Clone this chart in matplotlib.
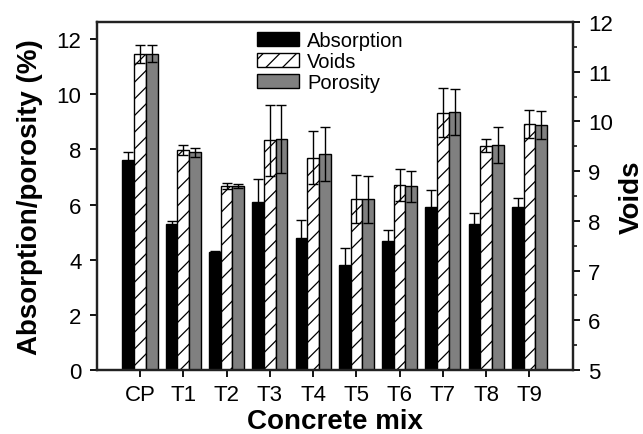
import matplotlib
matplotlib.use('Agg')
import matplotlib.pyplot as plt
from matplotlib.ticker import MultipleLocator
import numpy as np

plt.rcParams['font.family'] = ['Liberation Sans', 'DejaVu Sans']
plt.rcParams['hatch.linewidth'] = 0.9

# Data (left axis units)
mixes = ['CP', 'T1', 'T2', 'T3', 'T4', 'T5', 'T6', 'T7', 'T8', 'T9']
absorption = [7.6, 5.29, 4.27, 6.08, 4.79, 3.81, 4.69, 5.9, 5.28, 5.92]
absorption_err = [0.32, 0.1, 0.06, 0.85, 0.66, 0.6, 0.4, 0.64, 0.41, 0.33]
voids = [11.47, 7.97, 6.68, 8.34, 7.7, 6.19, 6.71, 9.34, 8.13, 8.93]
voids_err = [0.33, 0.18, 0.12, 1.29, 0.97, 0.87, 0.58, 0.88, 0.24, 0.5]
porosity = [11.47, 7.89, 6.68, 8.38, 7.83, 6.19, 6.66, 9.37, 8.17, 8.89]
porosity_err = [0.3, 0.16, 0.07, 1.24, 0.98, 0.85, 0.57, 0.83, 0.65, 0.51]

x = np.arange(len(mixes))
w = 0.27

fig = plt.figure(figsize=(6.43, 4.35), dpi=100)
ax = fig.add_axes([0.1504, 0.147, 0.7403, 0.800])

ax.bar(x - w, absorption, w, color='black', edgecolor='black', linewidth=1,
       label='Absorption', zorder=2)
ax.bar(x, voids, w, color='white', edgecolor='black', linewidth=1,
       hatch='//', label='Voids', zorder=2)
ax.bar(x + w, porosity, w, color='#808080', edgecolor='black', linewidth=1,
       label='Porosity', zorder=2)

for off, vals, errs in [(-w, absorption, absorption_err),
                        (0, voids, voids_err),
                        (w, porosity, porosity_err)]:
    ax.errorbar(x + off, vals, yerr=errs, fmt='none', ecolor='black',
                elinewidth=1, capsize=3.5, capthick=1, zorder=3)

ax.set_xlim(-1, 10)
ax.set_ylim(0, 12.62)
ax.set_xticks(x)
ax.set_xticklabels(mixes)
ax.set_yticks(range(0, 13, 2))
ax.tick_params(axis='both', labelsize=16, width=1.3, length=5, direction='out')
ax.tick_params(axis='x', pad=5)
ax.tick_params(axis='y', right=False, pad=6)
for s in ax.spines.values():
    s.set_linewidth(1.6)
    s.set_color('#222222')

ax.set_xlabel('Concrete mix', fontsize=20, fontweight='bold', labelpad=2)
ax.set_ylabel('Absorption/porosity (%)', fontsize=20, fontweight='bold', labelpad=10)

ax2 = ax.twinx()
ax2.set_ylim(5, 12)
ax2.yaxis.set_major_locator(MultipleLocator(1))
ax2.yaxis.set_minor_locator(MultipleLocator(0.5))
ax2.tick_params(axis='y', which='major', labelsize=16, width=1.3, length=5, pad=6)
ax2.tick_params(axis='y', which='minor', width=1.1, length=3)
ax2.set_ylabel('Voids', fontsize=20, fontweight='bold', labelpad=4)
for s in ax2.spines.values():
    s.set_linewidth(1.6)
    s.set_color('#222222')

leg = ax.legend(loc='upper left', bbox_to_anchor=(0.336, 0.975), frameon=False,
                fontsize=14.5, handlelength=2.1, handleheight=0.7,
                handletextpad=0.4, labelspacing=0.1, borderpad=0,
                borderaxespad=0)

fig.savefig('out.png', dpi=100)
